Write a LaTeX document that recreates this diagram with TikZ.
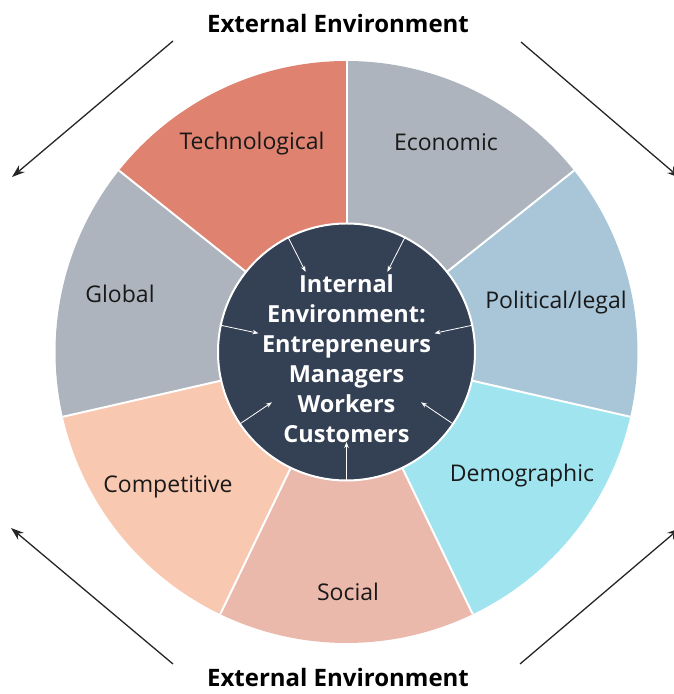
\documentclass[tikz,border=0pt]{standalone}
\usepackage{fontspec}
\setmainfont{Open Sans}
\usetikzlibrary{arrows.meta,positioning}
\definecolor{envred}{RGB}{223,130,112}
\definecolor{envgrey}{RGB}{173,180,189}
\definecolor{envblue}{RGB}{168,198,216}
\definecolor{envcyan}{RGB}{160,228,240}
\definecolor{envpink}{RGB}{235,184,172}
\definecolor{envpeach}{RGB}{249,200,177}
\definecolor{corenavy}{RGB}{52,64,84}
\tikzset{
    sectorlabel/.style={font=\fontsize{23}{28}\selectfont, text=black!90},
    title/.style={font=\fontsize{24}{28}\selectfont\bfseries, inner sep=1pt},
    corelabel/.style={font=\fontsize{23.5}{30}\selectfont\bfseries, text=white, align=center},
    outarrow/.style={line width=1.3pt, black!85, -{Stealth[length=13pt,width=9pt]}},
    inarrow/.style={line width=0.8pt, white, -{Stealth[length=6pt,width=4.5pt]}},
    divider/.style={white, line width=2pt},
}

\begin{document}
\begin{tikzpicture}[x=1pt,y=1pt]
    \useasboundingbox (0,0) rectangle (673,694);
    \coordinate (c) at (346.5,342);

    % sectors
    \foreach \a/\col in {38.57/envgrey, 90/envred, 141.43/envgrey, 192.86/envpeach, 244.29/envpink, 295.71/envcyan, 347.14/envblue} {
        \fill[\col] (c) -- ++(\a:291) arc[start angle=\a, delta angle=51.43, radius=291] -- cycle;
    }
    \foreach \a in {38.57, 90, 141.43, 192.86, 244.29, 295.71, 347.14} {
        \draw[divider] (c) -- ++(\a:291);
    }

    % internal environment
    \node[circle, fill=corenavy, draw=white, line width=2pt, minimum size=257pt, inner sep=0pt] (core) at (c) {};
    \node[corelabel] (coretext) at ([yshift=-7]c) {Internal\\Environment:\\Entrepreneurs\\Managers\\Workers\\Customers};
    \foreach \a in {-90, -34, 12, 63, 117, 168, 214} {
        \draw[inarrow] (core.\a) -- ([shift={(\a:90)}]c);
    }

    % sector labels
    \node[sectorlabel] (tech) at (252,550) {Technological};
    \node[sectorlabel] (econ) at (446,552) {Economic};
    \node[sectorlabel] (poli) at (556,391) {Political/legal};
    \node[sectorlabel] (demo) at (522,218) {Demographic};
    \node[sectorlabel] (soc) at (348,102) {Social};
    \node[sectorlabel] (comp) at (168,207) {Competitive};
    \node[sectorlabel] (glob) at (120,400) {Global};

    % external environment
    \node[title] (exttop) at (338,670) {External Environment};
    \node[title] (extbot) at (338,17) {External Environment};

    \coordinate (tlS) at (173,653);
    \coordinate (tlE) at (12,517);
    \coordinate (trS) at (521,652);
    \coordinate (trE) at (680,516);
    \coordinate (blS) at (173,30);
    \coordinate (blE) at (11,166);
    \coordinate (brS) at (520,30);
    \coordinate (brE) at (680,166);
    \draw[outarrow] (tlS) -- (tlE);
    \draw[outarrow] (trS) -- (trE);
    \draw[outarrow] (blS) -- (blE);
    \draw[outarrow] (brS) -- (brE);
\end{tikzpicture}
\end{document}
